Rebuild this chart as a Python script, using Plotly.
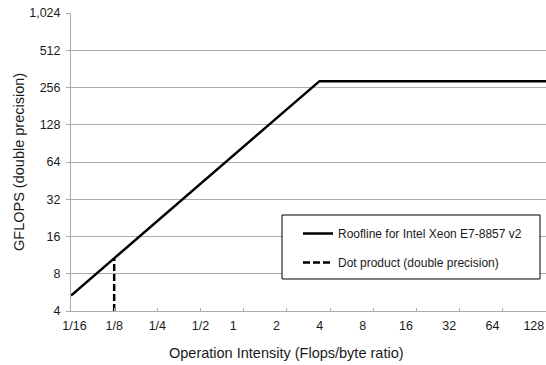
import plotly.graph_objects as go
import math

# Data
roof_x = [1/16, 3.375, 128]
roof_y = [5.33, 288, 288]
dot_x = [1/8, 1/8]
dot_y = [4, 10.66]

x_tickvals = [1/16, 1/8, 1/4, 1/2, 1, 2, 4, 8, 16, 32, 64, 128]
x_ticktext = ["1/16", "1/8", "1/4", "1/2", "1", "2", "4", "8", "16", "32", "64", "128"]
y_tickvals = [4, 8, 16, 32, 64, 128, 256, 512, 1024]
y_ticktext = ["4", "8", "16", "32", "64", "128", "256", "512", "1,024"]

NB = "\u00a0"
def pad(t):
    if "/" in t:
        if t == "1/16":
            return NB * 2 + t
        return t
    if t == "128":
        return t + NB * 7
    return t + NB * 6

FONT = "Liberation Sans, Arial, sans-serif"
GRID = "#ABABAB"
TXT = "#1a1a1a"

fig = go.Figure()
fig.add_trace(go.Scatter(
    x=roof_x, y=roof_y, mode="lines", name="Roofline for Intel Xeon E7-8857 v2",
    line=dict(color="black", width=2.5), legendgroup="a"))
fig.add_trace(go.Scatter(
    x=dot_x, y=dot_y, mode="lines", name="Dot product (double precision)",
    line=dict(color="black", width=2.5, dash="7px,3px"), legendgroup="b"))

fig.update_layout(
    width=546, height=365,
    margin=dict(l=71, r=0, t=13, b=54, autoexpand=False),
    paper_bgcolor="white", plot_bgcolor="white",
    font=dict(family=FONT, size=12, color=TXT),
    showlegend=True,
    legend=dict(
        x=0.4779, y=0.3087, xanchor="left", yanchor="top",
        bgcolor="rgba(0,0,0,0)", borderwidth=0,
        font=dict(size=12, family=FONT, color=TXT),
        tracegroupgap=10, itemwidth=30,
    ),
    shapes=[
        dict(type="rect", xref="paper", yref="paper",
             x0=0.4442, x1=0.9874, y0=0.1074, y1=0.3221,
             line=dict(color="black", width=1), fillcolor="white", layer="above"),
    ],
    xaxis=dict(
        type="log", automargin=False, ticklabeloverflow="allow",
        range=[math.log10(1/16), math.log10(128) + 1e-4],
        tickvals=x_tickvals, ticktext=[pad(t) for t in x_ticktext],
        tickangle=0,
        ticks="inside", ticklen=3, tickcolor=GRID, ticklabelstandoff=3,
        showgrid=False, zeroline=False,
        showline=True, linecolor=GRID, linewidth=1,
        tickfont=dict(size=12.5),
    ),
    yaxis=dict(
        type="log", automargin=False, ticklabeloverflow="allow",
        range=[math.log10(4), math.log10(1024)],
        tickvals=y_tickvals, ticktext=y_ticktext,
        ticks="outside", ticklen=4, tickcolor=GRID, ticklabelstandoff=3,
        showgrid=True, gridcolor=GRID, gridwidth=1,
        zeroline=False,
        showline=True, linecolor=GRID, linewidth=1,
        tickfont=dict(size=12.5),
    ),
    annotations=[
        dict(text="Operation Intensity (Flops/byte ratio)", xref="paper", yref="paper",
             x=0.4547, y=-0.141, xanchor="center", yanchor="middle", showarrow=False,
             font=dict(size=14.5, family=FONT, color=TXT)),
        dict(text="GFLOPS (double precision)", xref="paper", yref="paper",
             x=-0.1095, y=0.5, xanchor="center", yanchor="middle", showarrow=False,
             textangle=-90, font=dict(size=14.5, family=FONT, color=TXT)),
    ],
)

fig.write_html("out.html", config={"displayModeBar": False},
               post_script="document.body.style.margin='0px';")
